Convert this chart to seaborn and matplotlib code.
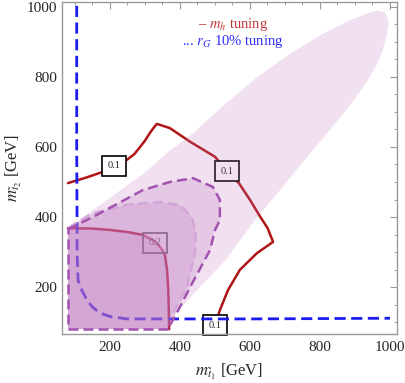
import matplotlib
matplotlib.use("Agg")
import matplotlib.pyplot as plt
import seaborn as sns
import numpy as np
import pandas as pd

sns.set_style("white")
plt.rcParams['font.family'] = ['Liberation Serif', 'DejaVu Serif']
plt.rcParams['mathtext.fontset'] = 'stix'

# ---- data (GeV) ----
# outer light region (wedge with rounded tip)
regA_x = [80, 171, 300, 371, 429, 524, 619, 714, 810, 886, 930, 960, 985, 995, 995, 990, 980, 960, 930, 890,
          850, 800, 752, 686, 614, 530, 457, 371, 365, 80]
regA_y = [369, 434, 527, 590, 632, 718, 798, 866, 924, 962, 980, 990, 985, 962, 944, 915, 878, 830, 780, 725,
          675, 615, 558, 477, 391, 277, 200, 106, 80, 80]
# region with dark purple dashed border
regB_x = [80, 151, 294, 371, 437, 494, 514, 514, 500, 486, 429, 391, 365, 80]
regB_y = [365, 400, 477, 500, 511, 486, 449, 391, 363, 306, 200, 126, 80, 80]
# region with light dashed border
regC_x = [80, 150, 250, 343, 400, 434, 443, 445, 443, 420, 380, 365, 80]
regC_y = [369, 410, 435, 443, 434, 400, 363, 330, 297, 200, 126, 80, 80]
# darkest square region (top/right = 0.2 contour)
regD_x = [80, 150, 200, 250, 294, 330, 350, 357, 363, 366, 368, 369, 80]
regD_y = [368, 367, 363, 357, 349, 330, 305, 291, 250, 200, 140, 80, 80]
# m_h tuning 0.1 contour
red_x = [80, 130, 180, 212, 248, 270, 286, 300, 314, 325, 334, 371, 429, 500, 534, 569, 600, 629, 650, 666,
         620, 571, 537, 514, 497]
red_y = [497, 512, 529, 546, 563, 580, 600, 618, 640, 655, 666, 654, 615, 572, 531, 496, 449, 401, 369, 329,
         297, 249, 191, 134, 80]
# r_G 10% tuning contour
blue_x = [105, 105, 106, 106, 109, 120, 134, 150, 171, 200, 249, 363, 600, 1000]
blue_y = [1003, 600, 383, 297, 220, 190, 163, 143, 126, 116, 109, 109, 109, 111]
# contour labels
lab_x = [212, 534, 500]
lab_y = [546, 531, 91]
lab_t = ["0.1", "0.1", "0.1"]
lab2_x, lab2_y, lab2_t = 329, 326, "0.2"

fig = plt.figure(figsize=(4.05, 3.83), dpi=100)
ax = fig.add_axes([62/405, 1-334/383, 335/405, 332/383])

red = "#b01515"
blue = "#1c1cf0"
purple = "#a452b2"
fillc = (0.74, 0.45, 0.74)

# lines beneath fills
sns.lineplot(x=red_x, y=red_y, sort=False, estimator=None, color=red, lw=1.8, ax=ax, zorder=2)
sns.lineplot(x=regD_x[:-1], y=regD_y[:-1], sort=False, estimator=None, color="#b81a2a", lw=1.8, ax=ax, zorder=2)
for x, y, t in zip(lab_x, lab_y, lab_t):
    ax.text(x, y, t, ha='center', va='center', fontsize=7.5, color='#222222', zorder=2.5,
            bbox=dict(boxstyle='square,pad=0.55', fc='white', ec='black', lw=1.2))
ax.text(lab2_x, lab2_y, lab2_t, ha='center', va='center', fontsize=7.5, color='#555555', zorder=2.5,
        bbox=dict(boxstyle='square,pad=0.55', fc=(1, 1, 1, 0.3), ec='#555555', lw=1.2))
sns.lineplot(x=blue_x, y=blue_y, sort=False, estimator=None, color=blue, lw=2.0, ax=ax, zorder=3)
ax.lines[-1].set_dashes([4, 2])

# fills
for rx, ry in [(regA_x, regA_y), (regB_x, regB_y), (regC_x, regC_y), (regD_x, regD_y)]:
    ax.fill(rx, ry, color=fillc, alpha=0.22, lw=0, zorder=4)

# borders on top
sns.lineplot(x=regC_x[:-2], y=regC_y[:-2], sort=False, estimator=None, color="#d2a6d8", lw=1.8, ax=ax, zorder=5)
ax.lines[-1].set_dashes([4, 2])
sns.lineplot(x=regB_x[:-1], y=regB_y[:-1], sort=False, estimator=None, color=purple, lw=1.8, ax=ax, zorder=5)
ax.lines[-1].set_dashes([4, 2])
sns.lineplot(x=[365, 80, 80], y=[80, 80, 368], sort=False, estimator=None, color=purple, lw=1.8, ax=ax, zorder=5)
ax.lines[-1].set_dashes([4, 2])

# legend texts
ax.text(551, 949, r"– $m_h$ tuning", color="#c03535", fontsize=10.5, ha='center', va='center')
ax.text(551, 900, r"... $r_G$ 10% tuning", color="#2b2bff", fontsize=10.5, ha='center', va='center')

ax.set_xlim(63, 1020)
ax.set_ylim(66, 1014)
ax.set_xticks([200, 400, 600, 800, 1000])
ax.set_yticks([200, 400, 600, 800, 1000])
ax.set_xticks(np.arange(100, 1001, 50), minor=True)
ax.set_yticks(np.arange(100, 1001, 50), minor=True)
ax.tick_params(which='both', direction='in', top=True, right=True, color='#999999', labelsize=11)
ax.tick_params(which='major', length=5, width=0.8)
ax.tick_params(which='minor', length=2.5, width=0.7)
ax.tick_params(axis='x', pad=5)
for s in ax.spines.values():
    s.set_color('#999999')
    s.set_linewidth(1.0)
ax.set_xlabel(r"$m_{\tilde{t}_1}$ [GeV]", fontsize=12, labelpad=6)
ax.set_ylabel(r"$m_{\tilde{t}_2}$ [GeV]", fontsize=12, labelpad=2)

fig.savefig("out.png", dpi=100)
